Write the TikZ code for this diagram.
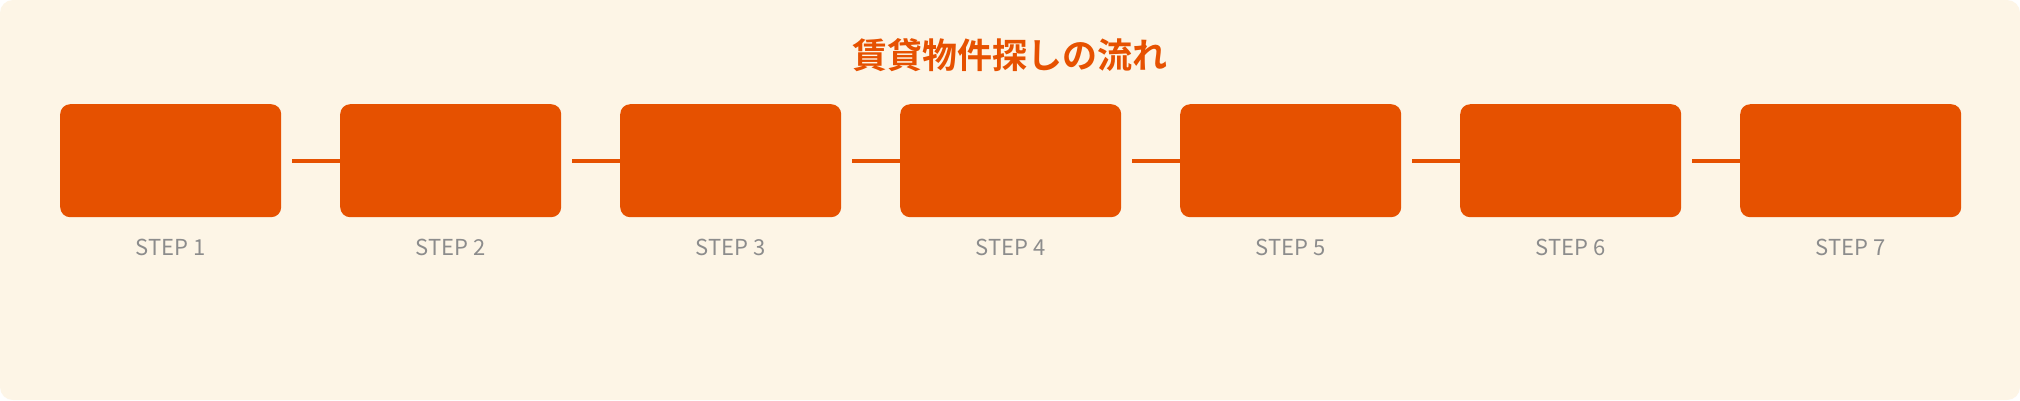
\documentclass[tikz,border=0pt]{standalone}
\usepackage{fontspec}
\setmainfont{Noto Sans}
\newfontfamily\cjk{Noto Sans CJK JP}[BoldFont={* Bold}]
\definecolor{bgcream}{HTML}{FDF5E6}
\definecolor{stepor}{HTML}{E65100}
\definecolor{stepgrey}{HTML}{8C8C8C}
\tikzset{
  stepbox/.style={fill=stepor, draw=none, rounded corners=10pt, minimum width=221pt, minimum height=113pt, inner sep=0pt, anchor=north west},
  steplabel/.style={text=stepgrey, font=\cjk\fontsize{22}{26}\selectfont, anchor=center, inner sep=0pt},
  linker/.style={draw=stepor, line width=4pt},
}
\begin{document}
\begin{tikzpicture}[x=1pt,y=-1pt]
\useasboundingbox (0,0) rectangle (2020,400);
\fill[white] (0,0) rectangle (2020,400);
\fill[bgcream, rounded corners=13pt] (0,0) rectangle (2020,400);
\node[text=stepor, font=\cjk\bfseries\fontsize{35}{40}\selectfont, inner sep=0pt] (title) at (1010,55) {賃貸物件探しの流れ};
\foreach \i in {1,...,7} {
  \pgfmathsetmacro{\xx}{60+280*(\i-1)}
  \coordinate (c\i) at (\xx+232,160.7);
}
\foreach \i in {1,...,6} {
  \draw[linker] (c\i) -- ++(60,0);
}
\foreach \i in {1,...,7} {
  \pgfmathsetmacro{\xx}{60+280*(\i-1)}
  \node[stepbox] (s\i) at (\xx,104) {};
  \node[steplabel] (l\i) at (\xx+110.5,247.5) {STEP \i};
}
\end{tikzpicture}
\end{document}
